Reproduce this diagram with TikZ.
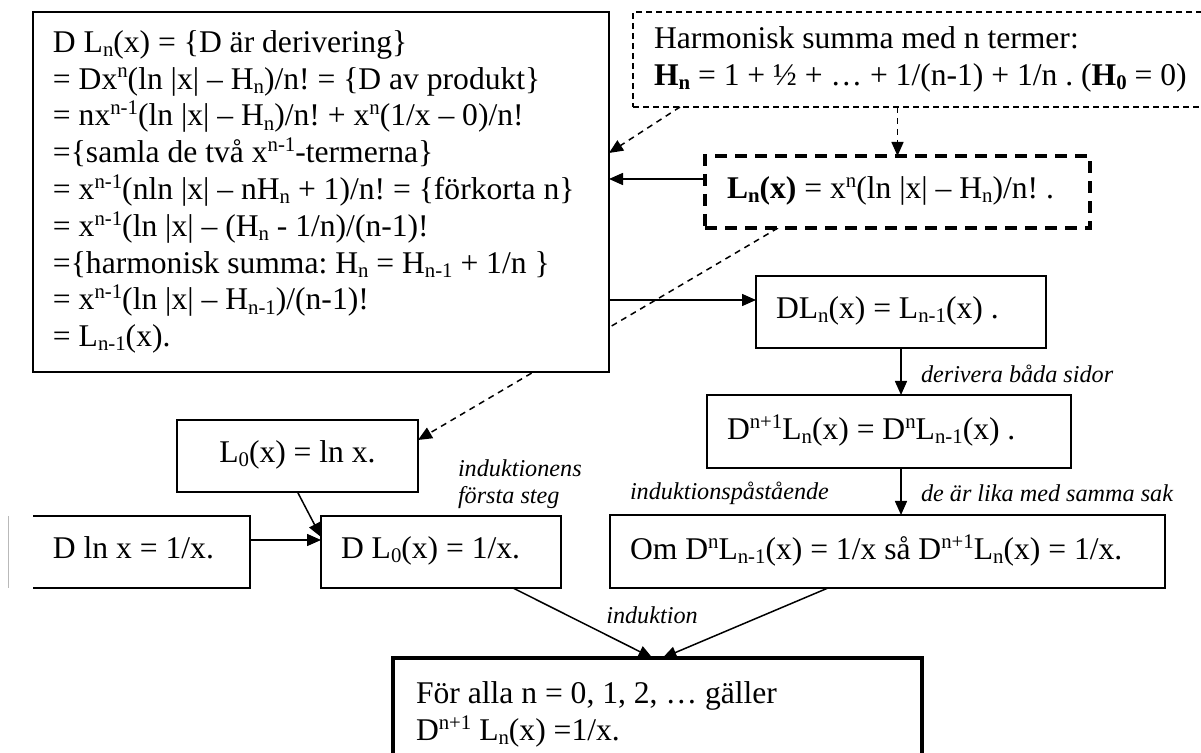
\documentclass[tikz,border=0pt]{standalone}
\usepackage{fontspec}
\setmainfont{Liberation Serif}[ItalicFont={Liberation Serif Italic},BoldFont={Liberation Serif Bold}]
\usetikzlibrary{arrows.meta,calc,backgrounds}
\frenchspacing
\newcommand\Sup[1]{\raisebox{0.36em}{\fontsize{10.4}{10.4}\selectfont #1}}
\newcommand\Sub[1]{\raisebox{-0.13em}{\fontsize{10.4}{10.4}\selectfont #1}}
\newcommand\narrowsp{\spaceskip=0.25em\relax}
\begin{document}
\begin{tikzpicture}[x=0.5pt,y=-0.5pt,
  every node/.style={font=\fontsize{15.8}{18.4}\selectfont, outer sep=0pt, execute at begin node=\narrowsp},
  box/.style={draw, line width=0.8pt, inner xsep=10pt, inner ysep=0pt, align=left, fill=white},
  oneline/.style={text depth=0.45em},
  lab/.style={font=\fontsize{12.1}{13.8}\selectfont\itshape, inner sep=0pt},
  arr/.style={-{Triangle[length=7pt,width=6pt]}, line width=0.75pt},
  darr/.style={arr, dash pattern=on 3pt off 2.5pt}]
\useasboundingbox (0,0) rectangle (1201,753);

% boxes
\node[box, minimum width=288pt, minimum height=180pt, text width=268pt] (big) at (321,192) {%
\mbox{D L\Sub{n}(x) = \{D är derivering\}}\\
\mbox{= Dx\Sup{n}(ln |x| – H\Sub{n})/n! = \{D av produkt\}}\\
\mbox{= nx\Sup{n-1}(ln |x| – H\Sub{n})/n! + x\Sup{n}(1/x – 0)/n!}\\
\mbox{=\{samla de två x\Sup{n-1}-termerna\}}\\
\mbox{= x\Sup{n-1}(nln |x| – nH\Sub{n} + 1)/n! = \{förkorta n\}}\\
\mbox{= x\Sup{n-1}(ln |x| – (H\Sub{n} - 1/n)/(n-1)!}\\
\mbox{=\{harmonisk summa: H\Sub{n} = H\Sub{n-1} + 1/n \}}\\
\mbox{= x\Sup{n-1}(ln |x| – H\Sub{n-1})/(n-1)!}\\
\mbox{= L\Sub{n-1}(x).}};

\node[box, line width=0.6pt, dash pattern=on 3pt off 2pt, inner xsep=10.5pt, minimum width=291pt, minimum height=47.5pt, text width=270pt] (harm) at (924,59.5) {%
\mbox{Harmonisk summa med n termer:}\\
\mbox{\textbf{H\Sub{n}} = 1 + ½ + … + 1/(n-1) + 1/n . (\textbf{H\Sub{0}} = 0)}};

\node[box, oneline, line width=2pt, dash pattern=on 6pt off 4pt, inner xsep=11pt, minimum width=192.5pt, minimum height=36pt, text width=170.5pt] (lnbox) at (897.5,192) {%
\mbox{\textbf{L\Sub{n}(x)} = x\Sup{n}(ln |x| – H\Sub{n})/n! .}};

\node[box, oneline, minimum width=145pt, minimum height=36pt, text width=125pt] (DL) at (901,312) {%
\mbox{DL\Sub{n}(x) = L\Sub{n-1}(x) .}};

\node[box, oneline, minimum width=182pt, minimum height=36.5pt, text width=162pt] (Dn1) at (889,431.5) {%
\mbox{D\Sup{n+1}L\Sub{n}(x) = D\Sup{n}L\Sub{n-1}(x) .}};

\node[box, oneline, minimum width=277.5pt, minimum height=36.5pt, text width=257.5pt] (Om) at (887.5,551.5) {%
\mbox{Om D\Sup{n}L\Sub{n-1}(x) = 1/x så D\Sup{n+1}L\Sub{n}(x) = 1/x.}};

\node[box, oneline, align=center, minimum width=120.5pt, minimum height=36pt, text width=100.5pt] (L0) at (297.5,456) {%
\mbox{L\Sub{0}(x) = ln x.}};

\node[box, oneline, draw=none, minimum width=108.5pt, minimum height=36pt, text width=88.5pt] (dlnx) at (141.5,552) {%
\mbox{D ln x = 1/x.}};
\draw[line width=0.8pt] (dlnx.north west) -- (dlnx.north east) -- (dlnx.south east) -- (dlnx.south west);
\draw[gray!55, line width=0.5pt] (8,516) -- (8,588);

\node[box, oneline, minimum width=120pt, minimum height=36pt, text width=100pt] (dL0) at (441,552) {%
\mbox{D L\Sub{0}(x) = 1/x.}};

\node[box, line width=1.75pt, inner xsep=11.5pt, minimum width=264.5pt, minimum height=56.5pt, text width=241.5pt] (final) at (657.5,714.5) {%
\mbox{För alla n = 0, 1, 2, … gäller}\\
\mbox{D\Sup{n+1} L\Sub{n}(x) =1/x.}};

% labels
\node[lab, anchor=west, align=left] (l1) at (458,484) {induktionens\\första steg};
\node[lab, anchor=west] (l2) at (921,374) {derivera båda sidor};
\node[lab, anchor=west] (l3) at (630,493) {induktionspåstående};
\node[lab, anchor=west] (l4) at (921,493) {de är lika med samma sak};
\node[lab] (l5) at (652,615) {induktion};

% connectors
\draw[darr] ($(harm.south west)+(47,0)$) -- ($(big.north east)+(0,141)$);
\draw[darr] (lnbox.north |- harm.south) -- (lnbox.north);
\coordinate (p1) at ($(lnbox.north west)+(0,23)$);
\draw[arr] (p1) -- (p1 -| big.east);
\coordinate (p2) at ($(DL.north west)+(0,24)$);
\draw[arr] (p2 -| big.east) -- (p2);
\draw[arr] (DL.south) -- (DL.south |- Dn1.north);
\draw[arr] (Dn1.south -| DL.south) -- (Om.north -| DL.south);
\coordinate (p3) at ($(dL0.north west)+(0,24)$);
\draw[arr] (p3 -| dlnx.east) -- (p3);
\draw[arr] (L0.south) -- ($(dL0.north west)+(0,21)$);
\draw[arr] ($(dL0.south east)+(-48,0)$) -- ($(final.north)+(-5,0)$);
\draw[arr] ($(Om.south west)+(218,0)$) -- ($(final.north)+(5,0)$);
\begin{pgfonlayer}{background}
\draw[darr] ($(lnbox.south west)+(73,0)$) -- ($(L0.north east)+(0,20)$);
\end{pgfonlayer}
\end{tikzpicture}
\end{document}
